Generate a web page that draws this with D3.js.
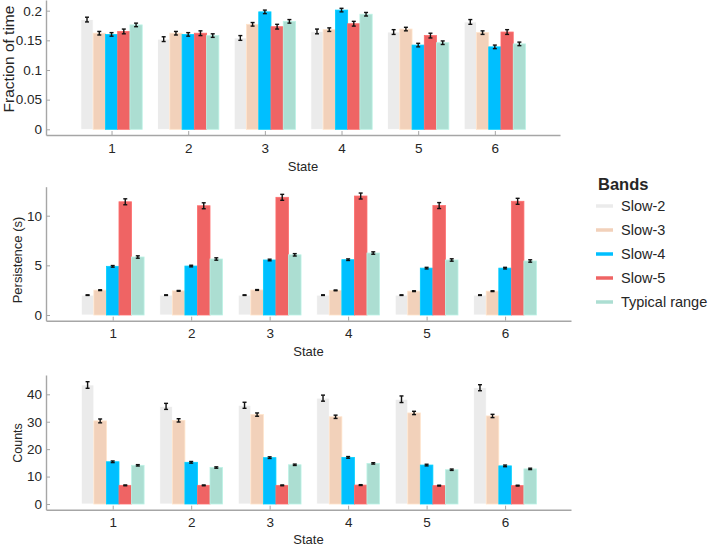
<!DOCTYPE html>
<html>
<head>
<meta charset="utf-8">
<script src="https://cdn.jsdelivr.net/npm/d3@7"></script>
<style>
  body { margin: 0; background: #fff; }
  text { font-family: "Liberation Sans", Arial, sans-serif; fill: #262626; }
</style>
</head>
<body>
<div id="vis-container"></div>
<script>
// categories and series
var states = [1, 2, 3, 4, 5, 6];
var bands = ["Slow-2", "Slow-3", "Slow-4", "Slow-5", "Typical range"];
var bandColors = ["#ebebeb", "#f2d1ba", "#00bfff", "#ef6464", "#acded2"];

// Fraction of time (rows = bands, cols = states)
var fracMean = [
	[0.185, 0.152, 0.154, 0.165, 0.164, 0.181],
	[0.162, 0.162, 0.177, 0.168, 0.169, 0.163],
	[0.160, 0.160, 0.198, 0.201, 0.142, 0.139],
	[0.165, 0.162, 0.173, 0.178, 0.158, 0.164],
	[0.176, 0.158, 0.182, 0.194, 0.146, 0.144]
];
var fracErr = [
	[0.004, 0.004, 0.004, 0.004, 0.004, 0.004],
	[0.003, 0.003, 0.003, 0.003, 0.003, 0.003],
	[0.003, 0.003, 0.003, 0.003, 0.003, 0.003],
	[0.004, 0.004, 0.004, 0.004, 0.004, 0.004],
	[0.003, 0.003, 0.003, 0.003, 0.003, 0.003]
];
var fracTicks = [0, 0.05, 0.1, 0.15, 0.2];

// Persistence (s)
var persMean = [
	[2.0, 2.0, 2.0, 2.0, 2.0, 2.0],
	[2.5, 2.43, 2.52, 2.48, 2.4, 2.4],
	[4.9, 4.93, 5.54, 5.57, 4.72, 4.72],
	[11.4, 11.0, 11.85, 11.98, 11.02, 11.45],
	[5.84, 5.64, 6.06, 6.24, 5.54, 5.44]
];
var persErr = [
	[0.03, 0.03, 0.03, 0.03, 0.03, 0.03],
	[0.04, 0.04, 0.04, 0.04, 0.04, 0.04],
	[0.08, 0.08, 0.08, 0.08, 0.08, 0.08],
	[0.3, 0.3, 0.3, 0.3, 0.3, 0.3],
	[0.12, 0.12, 0.12, 0.12, 0.12, 0.12]
];
var persTicks = [0, 5, 10];

// Counts
var countMean = [
	[43.4, 35.6, 36.0, 38.6, 38.2, 42.4],
	[30.3, 30.5, 32.6, 31.8, 33.2, 32.1],
	[15.4, 15.2, 16.9, 17.0, 14.2, 13.9],
	[6.8, 6.8, 6.8, 6.9, 6.7, 6.7],
	[14.1, 13.3, 14.3, 14.8, 12.5, 12.8]
];
var countErr = [
	[1.2, 1.1, 1.1, 1.1, 1.2, 1.1],
	[0.7, 0.6, 0.6, 0.6, 0.6, 0.6],
	[0.3, 0.3, 0.3, 0.3, 0.3, 0.3],
	[0.15, 0.15, 0.15, 0.15, 0.15, 0.15],
	[0.25, 0.25, 0.25, 0.25, 0.25, 0.25]
];
var countTicks = [0, 10, 20, 30, 40];

var width = 709, height = 546;
var svg = d3.select("#vis-container")
	.append("svg")
	.attr("width", width)
	.attr("height", height);

// one panel = one subplot
var panels = [
	{ mean: fracMean, err: fracErr, ticks: fracTicks, label: "Fraction of time", labelSize: 15.5,
	  labelX: 8, labelY: 59, xDom: [0.145, 6.85], xRange: [46, 560], yDom: [-0.0096, 0.218], yRange: [135, 0], stateDy: 31 },
	{ mean: persMean, err: persErr, ticks: persTicks, label: "Persistence (s)", labelSize: 13,
	  labelX: 17, labelY: 260, xDom: [0.15, 6.84], xRange: [46, 571], yDom: [-0.574, 12.92], yRange: [320.7, 186.7], stateDy: 31 },
	{ mean: countMean, err: countErr, ticks: countTicks, label: "Counts", labelSize: 12.5,
	  labelX: 18, labelY: 443, xDom: [0.15, 6.84], xRange: [46, 571], yDom: [-2.08, 47.04], yRange: [509.7, 375], stateDy: 29.5 }
];

var groupWidth = 0.8;
var barW = groupWidth / bands.length;

panels.forEach(function (p) {
	var x = d3.scaleLinear().domain(p.xDom).range(p.xRange);
	var y = d3.scaleLinear().domain(p.yDom).range(p.yRange);
	var g = svg.append("g");

	// bars
	bands.forEach(function (b, bi) {
		var off = -groupWidth / 2 + bi * barW;
		g.selectAll(null)
			.data(states)
			.enter()
			.append("rect")
			.attr("x", function (s) { return x(s + off); })
			.attr("width", function (s) { return x(s + off + barW) - x(s + off); })
			.attr("y", function (s, i) { return y(p.mean[bi][i]); })
			.attr("height", function (s, i) { return y(0) - y(p.mean[bi][i]); })
			.attr("fill", bandColors[bi])
			.attr("stroke", d3.color(bandColors[bi]).brighter(0.25))
			.attr("stroke-width", 0.8);
	});

	// error bars
	bands.forEach(function (b, bi) {
		var off = -groupWidth / 2 + (bi + 0.5) * barW;
		var eg = g.selectAll(null)
			.data(states)
			.enter()
			.append("g")
			.attr("stroke", "#111")
			.attr("stroke-width", 1.4);
		eg.append("line")
			.attr("x1", function (s) { return x(s + off); })
			.attr("x2", function (s) { return x(s + off); })
			.attr("y1", function (s, i) { return y(p.mean[bi][i] - p.err[bi][i]); })
			.attr("y2", function (s, i) { return y(p.mean[bi][i] + p.err[bi][i]); });
		[-1, 1].forEach(function (sign) {
			eg.append("line")
				.attr("x1", function (s) { return x(s + off) - 2; })
				.attr("x2", function (s) { return x(s + off) + 2; })
				.attr("y1", function (s, i) { return y(p.mean[bi][i] + sign * p.err[bi][i]); })
				.attr("y2", function (s, i) { return y(p.mean[bi][i] + sign * p.err[bi][i]); });
		});
	});

	// axes
	var yAxis = g.append("g")
		.attr("transform", "translate(" + p.xRange[0] + ",0)")
		.call(d3.axisLeft(y).tickValues(p.ticks).tickFormat(d3.format("~g")).tickSizeInner(-4).tickSizeOuter(0).tickPadding(4));
	var xAxis = g.append("g")
		.attr("transform", "translate(0," + p.yRange[0] + ")")
		.call(d3.axisBottom(x).tickValues(states).tickFormat(d3.format("d")).tickSizeInner(-4).tickSizeOuter(0).tickPadding(8));
	[yAxis, xAxis].forEach(function (a) {
		a.select(".domain").attr("stroke", "#a6a6a6").attr("stroke-width", 1.4);
		a.selectAll(".tick line").attr("stroke", "#a6a6a6").attr("stroke-width", 1);
		a.selectAll(".tick text").style("font-size", "13.5px").attr("fill", "#262626")
			.style("font-family", "'Liberation Sans', Arial, sans-serif");
	});

	// axis labels
	g.append("text")
		.attr("x", (p.xRange[0] + p.xRange[1]) / 2)
		.attr("y", p.yRange[0] + p.stateDy)
		.attr("dominant-baseline", "central")
		.style("text-anchor", "middle")
		.style("font-size", "13px")
		.text("State");
	g.append("text")
		.attr("transform", "translate(" + p.labelX + "," + p.labelY + ") rotate(-90)")
		.attr("dominant-baseline", "central")
		.style("text-anchor", "middle")
		.style("font-size", p.labelSize + "px")
		.text(p.label);
});

// legend
var legend = svg.append("g").attr("transform", "translate(596,0)");
legend.append("text")
	.attr("x", 2)
	.attr("y", 183.5)
	.attr("dominant-baseline", "central")
	.style("font-size", "16.5px")
	.style("font-weight", "bold")
	.attr("fill", "#000")
	.text("Bands");
var items = legend.selectAll(null)
	.data(bands)
	.enter()
	.append("g")
	.attr("transform", function (d, i) { return "translate(0," + (206 + i * 24) + ")"; });
items.append("line")
	.attr("x1", 0).attr("x2", 17)
	.attr("stroke", function (d, i) { return bandColors[i]; })
	.attr("stroke-width", 3.5);
items.append("text")
	.attr("x", 25)
	.attr("dominant-baseline", "central")
	.style("font-size", "14.5px")
	.text(function (d) { return d; });
</script>
</body>
</html>
